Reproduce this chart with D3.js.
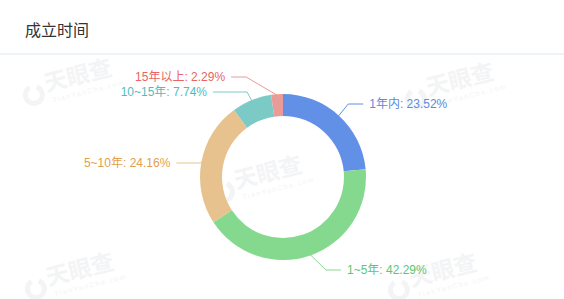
<!DOCTYPE html>
<html>
<head>
<meta charset="utf-8">
<script src="https://cdn.jsdelivr.net/npm/d3@7/dist/d3.min.js"></script>
<style>
  body { margin: 0; background: #fff; }
  svg { display: block; font-family: "Liberation Sans", "Noto Sans CJK SC", sans-serif; }
</style>
</head>
<body>
<div id="chart"></div>
<script>
const categories = ['1年内', '1~5年', '5~10年', '10~15年', '15年以上'];
const shares = [23.52, 42.29, 24.16, 7.74, 2.29];
const colors = ['#6190e6', '#84d98f', '#e8c28e', '#7ccac6', '#e99b98'];
const textColors = ['#5a8ae2', '#62c472', '#e3a04c', '#4fbdbd', '#e96464'];
// leader line layout: side, label y, elbow offset from slice edge, horizontal length
const labelSide = ['right', 'right', 'left', 'left', 'left'];
const labelY = [104, 270, 163, 92, 77];
const elbowDx = [10, 16, -2, -5, -31];
const leaderLen = [15, 15, 24, 34, 15];

function drawChart() {
  const totalWidth = 564;
  const totalHeight = 299;
  const cx = 283;
  const cy = 177;
  const outerR = 83;
  const innerR = 61;

  let svg = d3.select('#chart').append('svg')
      .attr('width', totalWidth)
      .attr('height', totalHeight);

  // faint watermarks
  const marks = [[61, 84], [443, 88], [251, 181], [63, 278], [426, 279]];
  const wmColor = '#f3f4f5';
  marks.forEach(function(m) {
    let w = svg.append('g')
        .attr('transform', 'translate(' + m[0] + ',' + m[1] + ') rotate(-14)');
    w.append('path')
        .attr('transform', 'translate(-29,4)')
        .attr('d', d3.arc().innerRadius(6).outerRadius(11)
          .startAngle(0.6).endAngle(2 * Math.PI - 0.3)())
        .attr('fill', wmColor);
    w.append('text').attr('x', -16).attr('y', 4)
        .attr('font-size', 23).attr('font-weight', 'bold')
        .attr('font-family', 'Noto Sans CJK SC')
        .attr('fill', wmColor).text('天眼查');
    w.append('text').attr('x', -12).attr('y', 16)
        .attr('font-size', 7).attr('letter-spacing', 1.5)
        .attr('fill', wmColor).text('TianYanCha.com');
  });

  // header
  svg.append('text')
      .attr('x', 25)
      .attr('y', 36)
      .attr('font-size', 16)
      .attr('font-family', 'Noto Sans CJK SC')
      .attr('fill', '#333')
      .text('成立时间');
  svg.append('rect')
      .attr('x', 0).attr('y', 53)
      .attr('width', totalWidth).attr('height', 2)
      .attr('fill', '#eef3f8');

  let data = categories.map(function(c, i) {
    return {
      name: c, value: shares[i], color: colors[i], textColor: textColors[i],
      side: labelSide[i], ly: labelY[i], dx: elbowDx[i], len: leaderLen[i]
    };
  });

  let pie = d3.pie().sort(null).value(function(d) {
    return d.value;
  });
  let arcs = pie(data);

  let arc = d3.arc().innerRadius(innerR).outerRadius(outerR);

  let g = svg.append('g').attr('transform', 'translate(' + cx + ',' + cy + ')');

  g.selectAll('.slice').data(arcs)
    .enter().append('path')
      .attr('class', 'slice')
      .attr('d', arc)
      .attr('fill', function(d) {
        return d.data.color;
      });

  // leader lines + labels
  arcs.forEach(function(d) {
    let mid = (d.startAngle + d.endAngle) / 2;
    let sx = cx + Math.sin(mid) * (outerR - 1);
    let sy = cy - Math.cos(mid) * (outerR - 1);
    let elbowX = sx + d.data.dx;
    let right = d.data.side === 'right';
    let ex = right ? elbowX + d.data.len : elbowX - d.data.len;
    let tx = right ? ex + 6 : ex - 6;
    let pts = [[sx, sy], [elbowX, d.data.ly], [ex, d.data.ly]];
    svg.append('path')
        .attr('d', d3.line()(pts))
        .attr('fill', 'none')
        .attr('stroke', d.data.color)
        .attr('stroke-width', 1);
    svg.append('text')
        .attr('x', tx)
        .attr('y', d.data.ly + 4)
        .attr('text-anchor', right ? 'start' : 'end')
        .attr('font-size', 12)
        .attr('fill', d.data.textColor)
        .text(d.data.name + ': ' + d.data.value.toFixed(2) + '%');
  });
}

drawChart();
</script>
</body>
</html>
